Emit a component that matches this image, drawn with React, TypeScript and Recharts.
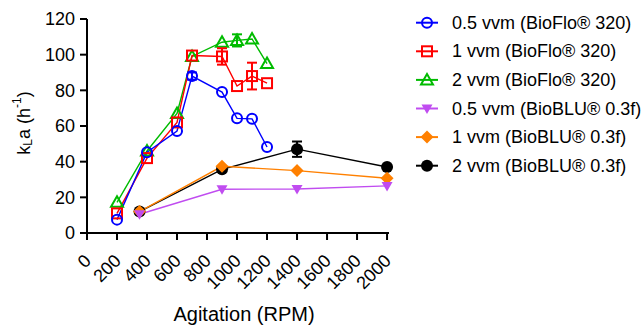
import React from 'react';
import { LineChart, Line, XAxis, YAxis } from 'recharts';

const rpmBioFlo = [200, 400, 600, 700, 900, 1000, 1100, 1200];
const bioFlo05 = [7.5, 45.3, 57.2, 88, 79, 64.3, 64, 48.2];
const bioFlo05Err = [null, null, null, 2, null, null, null, null];
const bioFlo1 = [11, 42, 62, 99.5, 99, 82.4, 88, 84];
const bioFlo1Err = [null, null, null, null, 4.6, null, 7.5, null];
const bioFlo2 = [17.2, 46, 67, 99, 107, 108, 108.8, 95];
const bioFlo2Err = [null, null, null, null, null, 3.4, null, null];

const rpmBioBLU = [350, 900, 1400, 2000];
const bioBLU05 = [10.5, 24.5, 24.7, 26.4];
const bioBLU1 = [12, 37.4, 35, 30.7];
const bioBLU2 = [12, 35.7, 47, 37];
const bioBLU2Err = [null, null, 4.3, null];

const xTicks = [0, 200, 400, 600, 800, 1000, 1200, 1400, 1600, 1800, 2000];
const yTicks = [0, 20, 40, 60, 80, 100, 120];

const seriesNames = [
  '0.5 vvm (BioFlo® 320)',
  '1 vvm (BioFlo® 320)',
  '2 vvm (BioFlo® 320)',
  '0.5 vvm (BioBLU® 0.3f)',
  '1 vvm (BioBLU® 0.3f)',
  '2 vvm (BioBLU® 0.3f)',
];

const FONT = 'Liberation Sans, Arial, sans-serif';

const build = (xs: number[], ys: number[], errs?: (number | null)[]) =>
  xs.map((x, i) => ({ x, y: ys[i], err: errs ? errs[i] : null }));

type Shape = 'circleOpen' | 'squareOpen' | 'triangleOpen' | 'triangleDown' | 'diamond' | 'circleFilled';

const series: { name: string; data: any[]; color: string; shape: Shape }[] = [
  { name: seriesNames[5], data: build(rpmBioBLU, bioBLU2, bioBLU2Err), color: '#000000', shape: 'circleFilled' },
  { name: seriesNames[4], data: build(rpmBioBLU, bioBLU1), color: '#ff8000', shape: 'diamond' },
  { name: seriesNames[3], data: build(rpmBioBLU, bioBLU05), color: '#c04cf0', shape: 'triangleDown' },
  { name: seriesNames[2], data: build(rpmBioFlo, bioFlo2, bioFlo2Err), color: '#00bb00', shape: 'triangleOpen' },
  { name: seriesNames[1], data: build(rpmBioFlo, bioFlo1, bioFlo1Err), color: '#ff0000', shape: 'squareOpen' },
  { name: seriesNames[0], data: build(rpmBioFlo, bioFlo05, bioFlo05Err), color: '#0000ff', shape: 'circleOpen' },
];

// vertical error segments: two points (low, high) at the same x, drawn as a line through the library scales
const errorSegments = series.flatMap((s) =>
  s.data
    .filter((d: any) => d.err != null)
    .map((d: any) => ({
      key: `${s.name}-${d.x}`,
      color: s.color,
      data: [
        { x: d.x, y: d.y - d.err },
        { x: d.x, y: d.y + d.err },
      ],
    }))
);

const legendOrder = [5, 4, 3, 2, 1, 0];

const Marker = ({ cx, cy, shape, color }: { cx: number; cy: number; shape: Shape; color: string }) => {
  if (cx == null || cy == null) return null;
  switch (shape) {
    case 'circleOpen':
      return <circle cx={cx} cy={cy} r={5} fill="none" stroke={color} strokeWidth={2} />;
    case 'squareOpen':
      return <rect x={cx - 5} y={cy - 5} width={10} height={10} fill="none" stroke={color} strokeWidth={2} />;
    case 'triangleOpen':
      return (
        <polygon
          points={`${cx},${cy - 6} ${cx + 6},${cy + 4.5} ${cx - 6},${cy + 4.5}`}
          fill="none"
          stroke={color}
          strokeWidth={2}
        />
      );
    case 'triangleDown':
      return <polygon points={`${cx - 5.5},${cy - 4} ${cx + 5.5},${cy - 4} ${cx},${cy + 5.5}`} fill={color} />;
    case 'diamond':
      return <polygon points={`${cx},${cy - 6.5} ${cx + 6.5},${cy} ${cx},${cy + 6.5} ${cx - 6.5},${cy}`} fill={color} />;
    case 'circleFilled':
      return <circle cx={cx} cy={cy} r={6} fill={color} />;
  }
  return null;
};

const XTick = (props: any) => {
  const { x, y, payload } = props;
  const ex = x + 5;
  const ey = y + 20;
  return (
    <text
      x={ex}
      y={ey}
      transform={`rotate(-45, ${ex}, ${ey})`}
      textAnchor="end"
      fontSize={18}
      fontFamily={FONT}
      fill="#000"
    >
      {payload.value}
    </text>
  );
};

const YLabel = (props: any) => {
  const vb = props.viewBox || {};
  const cx = 24;
  const cy = (vb.y ?? 19) + (vb.height ?? 214) / 2 - 3;
  return (
    <text
      x={cx}
      y={cy}
      transform={`rotate(-90, ${cx}, ${cy})`}
      textAnchor="middle"
      dominantBaseline="central"
      fontSize={18}
      fontFamily={FONT}
      fill="#000"
    >
      k
      <tspan fontSize={12} dy={4}>L</tspan>
      <tspan dy={-4}>a (h</tspan>
      <tspan fontSize={12} dy={-7}>-1</tspan>
      <tspan dy={7}>)</tspan>
    </text>
  );
};

const XLabel = () => (
  <text x={244} y={321} textAnchor="middle" fontSize={20} fontFamily={FONT} fill="#000">
    Agitation (RPM)
  </text>
);

const Legend = () => (
  <svg width={644} height={328} style={{ position: 'absolute', left: 0, top: 0, pointerEvents: 'none' }}>
    {legendOrder.map((si, row) => {
      const s = series[si];
      const cy = 22.7 + row * 28.6;
      return (
        <g key={s.name}>
          <line x1={416} x2={438} y1={cy} y2={cy} stroke={s.color} strokeWidth={2} />
          <Marker cx={427} cy={cy} shape={s.shape} color={s.color} />
          <text x={452} y={cy} dominantBaseline="central" fontSize={18} fontFamily={FONT} fill="#000">
            {s.name}
          </text>
        </g>
      );
    })}
  </svg>
);

export default function App() {
  return (
    <div style={{ position: 'absolute', left: 0, top: 0, width: 644, height: 328, background: '#fff' }}>
      <LineChart width={644} height={328} margin={{ top: 19, right: 255, bottom: 35, left: 27 }}>
        <XAxis
          type="number"
          dataKey="x"
          domain={[0, 2013]}
          ticks={xTicks}
          interval={0}
          allowDuplicatedCategory={false}
          stroke="#000"
          strokeWidth={2}
          tickSize={7}
          tick={<XTick />}
          height={60}
          label={<XLabel />}
        />
        <YAxis
          type="number"
          domain={[0, 120]}
          ticks={yTicks}
          interval={0}
          width={60}
          stroke="#000"
          strokeWidth={2}
          tickSize={7}
          tickMargin={5}
          tick={{ fontSize: 18, fill: '#000', fontFamily: FONT }}
          label={<YLabel />}
        />
        {series.map((s) => (
          <Line
            key={s.name}
            data={s.data}
            dataKey="y"
            name={s.name}
            stroke={s.color}
            strokeWidth={1.4}
            isAnimationActive={false}
            dot={(p: any) => <Marker key={`${s.name}-${p.index}`} cx={p.cx} cy={p.cy} shape={s.shape} color={s.color} />}
            activeDot={false}
          />
        ))}
        {errorSegments.map((e) => (
          <Line
            key={e.key}
            data={e.data}
            dataKey="y"
            stroke={e.color}
            strokeWidth={2}
            isAnimationActive={false}
            activeDot={false}
            legendType="none"
            dot={(p: any) => (
              <line
                key={`${e.key}-cap-${p.index}`}
                x1={p.cx - 5}
                x2={p.cx + 5}
                y1={p.cy}
                y2={p.cy}
                stroke={e.color}
                strokeWidth={2}
              />
            )}
          />
        ))}
      </LineChart>
      <Legend />
    </div>
  );
}
